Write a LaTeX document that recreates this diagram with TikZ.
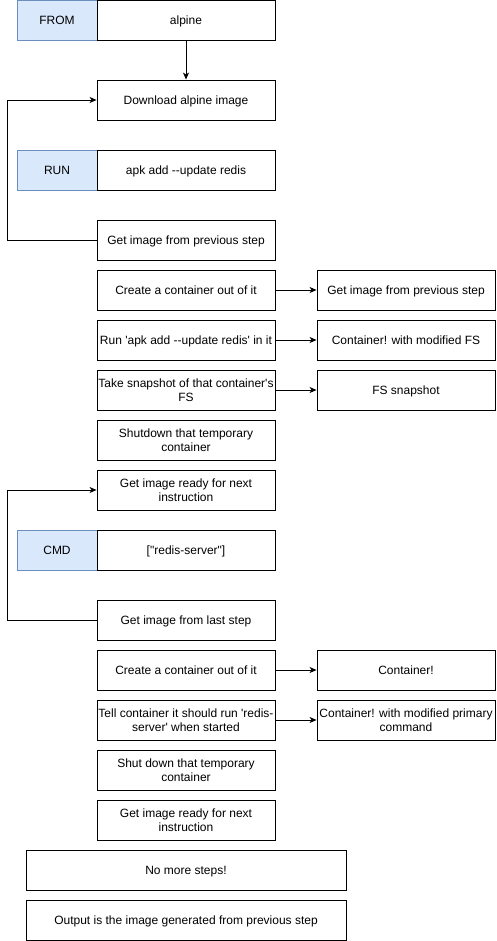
\documentclass[tikz,border=0pt]{standalone}
\usepackage{fontspec}
\newfontfamily\dfont{Liberation Sans}
\usetikzlibrary{arrows.meta}
\definecolor{kwfill}{HTML}{DAE8FC}
\definecolor{kwdraw}{HTML}{6C8EBF}
\begin{document}
\begin{tikzpicture}[x=1pt,y=1pt,
  every node/.style={font=\dfont\fontsize{12}{13.5}\selectfont, align=center, inner sep=0pt},
  box/.style={draw=black, line width=0.9pt, minimum width=178pt, minimum height=40pt, text depth=0pt},
  kw/.style={draw=kwdraw, fill=kwfill, line width=0.9pt, minimum width=80pt, minimum height=40pt, text depth=0pt},
  wide/.style={box, minimum width=320pt},
  arr/.style={draw=black, line width=0.9pt, -{Stealth[length=7pt,width=6pt,inset=2pt]}}]
\useasboundingbox (0,0) rectangle (496,-941);
\node[kw] (from) at (57,-20) {FROM};
\node[box] (alpine) at (186,-20) {alpine};
\node[box] (dl) at (186,-100) {Download alpine image};
\node[kw] (run) at (57,-170) {RUN};
\node[box] (apk) at (186,-170) {apk add -{}-update redis};
\node[box] (get1) at (186,-240) {Get image from previous step};
\node[box] (create1) at (186,-290) {Create a container out of it};
\node[box] (gi2) at (406,-290) {Get image from previous step};
\node[box] (runapk) at (186,-340) {Run 'apk add -{}-update redis' in it};
\node[box] (cmfs) at (406,-340) {Container! with modified FS};
\node[box] (snap) at (186,-390) {Take snapshot of that container's\\FS};
\node[box] (fss) at (406,-390) {FS snapshot};
\node[box] (shut1) at (186,-440) {Shutdown that temporary\\container};
\node[box] (ready1) at (186,-490) {Get image ready for next\\instruction};
\node[kw] (cmd) at (57,-550) {CMD};
\node[box] (rs) at (186,-550) {["redis-server"]};
\node[box] (last) at (186,-620) {Get image from last step};
\node[box] (create2) at (186,-670) {Create a container out of it};
\node[box] (cont) at (406,-670) {Container!};
\node[box] (tell) at (186,-720) {Tell container it should run 'redis-\\server' when started};
\node[box] (cmpc) at (406,-720) {Container! with modified primary\\command};
\node[box] (shut2) at (186,-770) {Shut down that temporary\\container};
\node[box] (ready2) at (186,-820) {Get image ready for next\\instruction};
\node[wide] (nomore) at (186,-870) {No more steps!};
\node[wide] (output) at (186,-920) {Output is the image generated from previous step};
\coordinate (l1a) at (7,-240);
\coordinate (l1b) at (7,-100);
\coordinate (l2a) at (7,-620);
\coordinate (l2b) at (7,-490);
\draw[arr] (alpine) -- (dl);
\draw[arr] (get1.west) -- (l1a) -- (l1b) -- (dl.west);
\draw[arr] (last.west) -- (l2a) -- (l2b) -- (ready1.west);
\draw[arr] (create1) -- (gi2);
\draw[arr] (runapk) -- (cmfs);
\draw[arr] (snap) -- (fss);
\draw[arr] (create2) -- (cont);
\draw[arr] (tell) -- (cmpc);
\end{tikzpicture}
\end{document}
